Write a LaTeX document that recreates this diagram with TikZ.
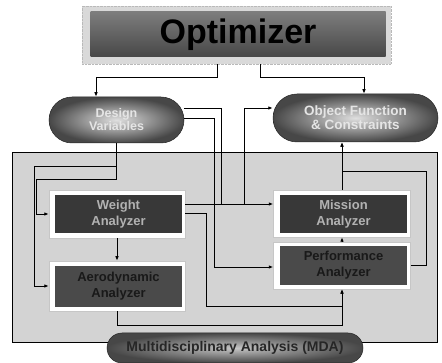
\documentclass[tikz,border=0pt]{standalone}
\usepackage{fontspec}
\setmainfont{Liberation Sans}
\usetikzlibrary{shapes.misc,arrows.meta}

\definecolor{mdafill}{HTML}{D3D3D3}
\definecolor{optframe}{HTML}{D9D9D9}
\definecolor{optcore}{HTML}{666666}
\definecolor{darkcore}{HTML}{383838}
\definecolor{midcore}{HTML}{4A4A4A}

\begin{document}
\begin{tikzpicture}[x=1pt,y=-1pt,
  conn/.style={draw=black,line width=0.9pt},
  arr/.style={conn,-{Latex[length=4.5pt,width=3.6pt]}},
  pill/.style={rounded rectangle, draw=black!85, line width=0.5pt,
    inner color=gray!25, outer color=black!72, text=black!10,
    font=\bfseries\fontsize{12.5}{13.5}\selectfont, align=center, inner sep=0pt},
  frame/.style={draw=gray!45, line width=0.5pt, fill=white, inner sep=0pt},
  core/.style={inner sep=0pt, align=center,
    font=\bfseries\fontsize{13}{16}\selectfont},
  lightcore/.style={core, fill=darkcore, text=black!30},
  deepcore/.style={core, fill=midcore, text=black!90},
]
\useasboundingbox (0,0) rectangle (442,363);

% analysis container
\node[draw=black, line width=0.6pt, fill=mdafill, minimum width=425pt,
      minimum height=190pt, inner sep=0pt] (mdabox) at (224.5,247) {};

% optimizer block
\node[draw=gray!55, densely dotted, fill=optframe, minimum width=309pt,
      minimum height=58pt, inner sep=0pt] (optout) at (236.5,35) {};
\node[top color=optcore!85, bottom color=optcore!70!black, minimum width=295pt,
      minimum height=45pt, inner sep=0pt, text=black,
      font=\bfseries\fontsize{34}{36}\selectfont] (optin) at (238,34.5) {Optimizer};

% design variables and objectives
\node[pill, minimum width=135pt, minimum height=46pt,
      font=\bfseries\fontsize{12.5}{13}\selectfont] (dv) at (116.5,120) {Design\\Variables};
\node[pill, minimum width=165pt, minimum height=48pt,
      font=\bfseries\fontsize{13.5}{14}\selectfont] (ofp) at (355.5,118) {Object Function\\\& Constraints};

% analyzers
\node[frame, minimum width=136pt, minimum height=48pt] (wout) at (117,214) {};
\node[lightcore, minimum width=127pt, minimum height=38pt] (win) at (118.5,214) {Weight\\Analyzer};

\node[frame, minimum width=136pt, minimum height=50pt] (aout) at (117,286) {};
\node[deepcore, minimum width=127pt, minimum height=41pt] (ain) at (118.5,286.5) {Aerodynamic\\Analyzer};

\node[frame, minimum width=137pt, minimum height=47pt] (mout) at (342,213.5) {};
\node[lightcore, minimum width=127pt, minimum height=38pt] (min) at (343.5,214) {Mission\\Analyzer};

\node[frame, minimum width=137pt, minimum height=47pt] (pout) at (342,265.5) {};
\node[deepcore, minimum width=127pt, minimum height=39pt] (pin) at (343.5,265.5) {Performance\\Analyzer};

% optimizer outputs
\draw[arr] ([xshift=-19.5pt]optout.south) -- ++(0,13) -| ([xshift=-20.5pt]dv.north);
\draw[arr] ([xshift=23.5pt]optout.south) -- ++(0,13) -| ([xshift=8.5pt]ofp.north);

% design variables into weight and aerodynamics
\coordinate (bendA) at (34,166);
\coordinate (bendB) at (36,179);
\draw[arr] (dv.south) |- (bendA) |- (aout.west);
\draw[arr] (dv.south) |- (bendB) |- (wout.west);

% weight to mission bus
\coordinate (wm) at ([yshift=10pt]wout.east);
\draw[arr] (wm) -- (wm -| mout.west);
\draw[conn] ([yshift=12pt]dv.east) -| (wm -| 221,0);
\draw[arr] (wm -| 244,0) |- ([yshift=10pt]ofp.west);
\draw[arr] ([yshift=2pt]dv.east) -- ++(30,0) |- ([yshift=-1.5pt]pout.west);

% weight and aerodynamics into performance
\draw[arr] (wout.south) -- (aout.north);
\draw[arr] ([yshift=1pt]wout.east) -| (206,306) -| (pout.south);
\draw[arr] (aout.south) |- (342,325) -- (pout.south);

% mission and performance into objectives
\draw[arr] (pout.north) -- (mout.south);
\draw[arr] (mout.north) -- (mout.north |- ofp.south);
\draw[arr] (pout.east) -- ++(16,0) |- (mout.north |- 0,171) -- (mout.north |- ofp.south);

% analysis label
\node[pill, minimum width=256pt, minimum height=30pt, text=black!85,
      inner color=gray!45, font=\bfseries\fontsize{14}{15}\selectfont] (mda) at (235,348)
      {Multidisciplinary Analysis (MDA)};
\end{tikzpicture}
\end{document}
